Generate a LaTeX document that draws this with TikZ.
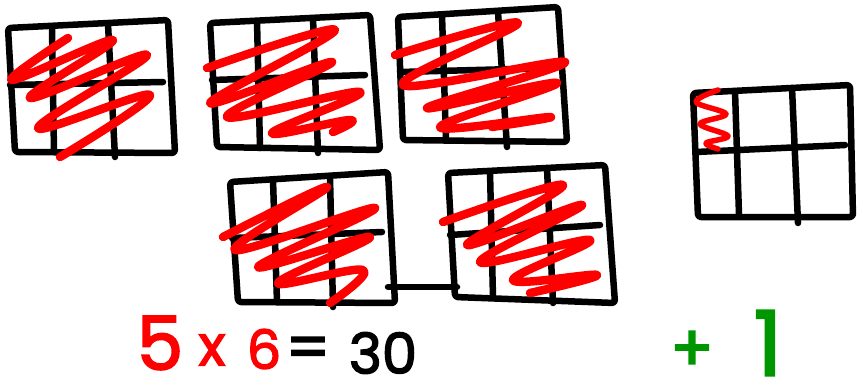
\documentclass[tikz,border=0pt]{standalone}
\usepackage{fontspec}
\setmainfont{Poppins}
\newfontfamily\marker{Poppins}[FakeBold=2.5]
\usetikzlibrary{positioning}

\definecolor{penred}{RGB}{255,0,0}
\definecolor{pengreen}{RGB}{0,150,0}

\begin{document}
\begin{tikzpicture}[
  x=1pt, y=-1pt,
  frame/.style={line width=6.5pt, line cap=round, line join=round, rounded corners=3pt},
  scribble/.style={penred, line width=8.5pt, line cap=round, line join=round},
  num/.style={inner sep=0pt}
  ]
  \useasboundingbox (0,0) rectangle (858,381);

  % top row
  \draw[frame] (8,28) -- (168,20) -- (175,153) -- (15,152) -- cycle;
  \draw[frame] (52,28) -- (54,152) (108,24) -- (115,157) (10,85) -- (163,82);
  \draw[frame] (210,23) -- (370,15) -- (380,150) -- (217,147) -- cycle;
  \draw[frame] (257,21) -- (260,148) (313,18) -- (318,153) (212,80) -- (365,75);
  \draw[frame] (398,17) -- (558,7) -- (567,142) -- (403,140) -- cycle;
  \draw[frame] (442,15) -- (446,140) (498,12) -- (507,147) (400,72) -- (552,68);

  % bottom row
  \draw[frame] (230,182) -- (388,172) -- (395,303) -- (238,302) -- cycle;
  \draw[frame] (273,180) -- (277,302) (330,177) -- (333,307) (232,238) -- (382,232);
  \draw[frame] (388,287) -- (457,287);
  \draw[frame] (448,173) -- (605,165) -- (615,303) -- (455,297) -- cycle;
  \draw[frame] (490,172) -- (493,298) (547,168) -- (553,303) (450,235) -- (600,225);

  % the extra one
  \draw[frame] (693,93) -- (850,85) -- (853,217) -- (698,217) -- cycle;
  \draw[frame] (735,91) -- (739,215) (792,88) -- (798,223) (696,152) -- (845,145);

  % shading
  \draw[scribble] plot[smooth, tension=0.7] coordinates {(68,38) (12,80) (113,40) (30,98) (147,55) (38,128) (150,95) (60,157)};
  \draw[scribble] plot[smooth, tension=0.7] coordinates {(207,68) (335,30) (210,103) (332,62) (227,117) (360,92) (272,133) (350,120) (333,132)};
  \draw[scribble] plot[smooth, tension=0.7] coordinates {(395,55) (518,23) (403,85) (565,62) (427,108) (557,83) (440,127) (550,117) (492,127)};
  \draw[scribble] plot[smooth, tension=0.7] coordinates {(223,237) (327,187) (235,250) (375,208) (258,267) (370,237) (278,283) (363,270) (330,303)};
  \draw[scribble] plot[smooth, tension=0.7] coordinates {(443,222) (563,185) (467,245) (582,205) (480,262) (590,240) (513,280) (597,275) (530,293)};
  \draw[scribble, line width=5.5pt] plot[smooth, tension=0.6] coordinates {(718,90) (696,102) (726,114) (700,124) (728,136) (706,143) (718,149)};

  \node[num, penred, font=\marker\fontsize{74}{74}\selectfont] (five) at (160,343) {5};
  \node[num, penred, font=\marker\fontsize{56}{56}\selectfont] (times) at (212,350) {x};
  \node[num, penred, font=\marker\fontsize{54}{54}\selectfont] (six) at (264,349) {6};
  \node[num, font=\marker\fontsize{62}{62}\selectfont] (eq) at (308,353) {=};
  \node[num, font=\marker\fontsize{56}{56}\selectfont] (thirty) at (383,353) {30};
  \node[num, pengreen, font=\marker\fontsize{64}{64}\selectfont] (plus) at (692,351) {+};
  \node[num, pengreen, font=\marker\fontsize{90}{90}\selectfont] (one) at (768,343) {1};
\end{tikzpicture}
\end{document}
